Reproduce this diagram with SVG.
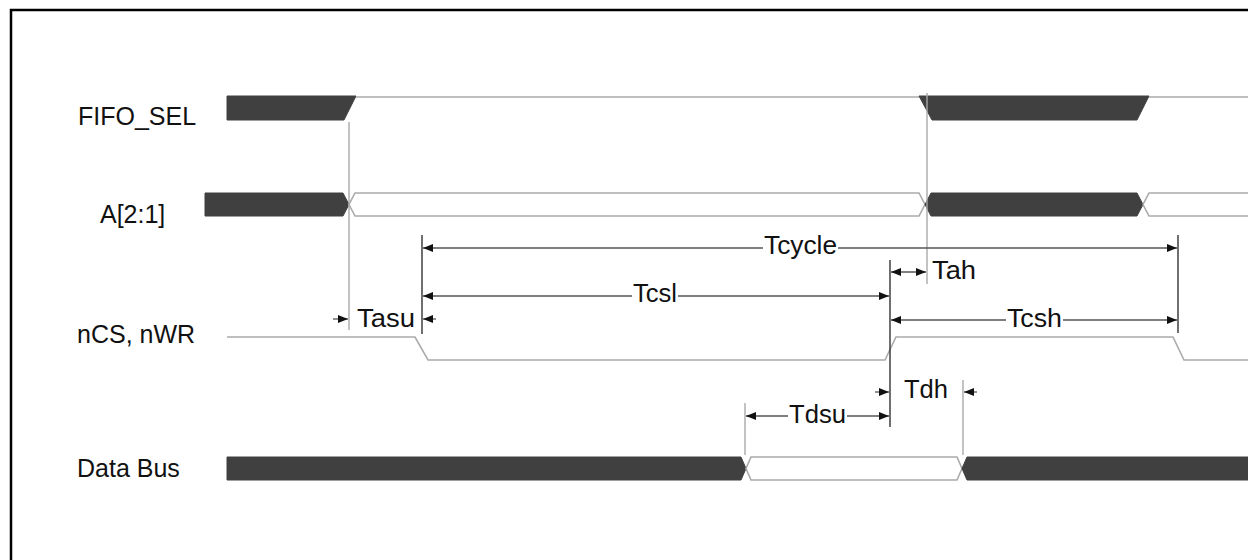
<svg xmlns="http://www.w3.org/2000/svg" width="1248" height="560" viewBox="0 0 1248 560">
<style>
.lbl{font-family:"Liberation Sans",Arial,sans-serif;font-size:25px;fill:#111}
.tl{font-family:"Liberation Sans",Arial,sans-serif;font-size:25px;fill:#111}
.dark{fill:#404040;stroke:#404040;stroke-width:1}
.sig{fill:#fff;stroke:#aaa;stroke-width:1.6}
.sigl{fill:none;stroke:#aaa;stroke-width:1.6}
.ref{stroke:#aaa;stroke-width:1.4;fill:none}
.refd{stroke:#333;stroke-width:1.4;fill:none}
.dim{stroke:#555;stroke-width:1.3;fill:none}
.arr{marker-end:url(#ah)}
.arr2{marker-start:url(#ah);marker-end:url(#ah)}
</style>
<defs>
<marker id="ah" viewBox="0 0 10 8" refX="10" refY="4" markerWidth="10" markerHeight="8" markerUnits="userSpaceOnUse" orient="auto-start-reverse">
<path d="M0,0 L10,4 L0,8 Z" fill="#111"/>
</marker>
</defs>
<rect width="1248" height="560" fill="#fff"/>
<path d="M11,560 V10 H1248" fill="none" stroke="#000" stroke-width="2.5"/>

<g id="labels">
<text class="lbl" x="78" y="125">FIFO_SEL</text>
<text class="lbl" x="100" y="223">A[2:1]</text>
<text class="lbl" x="77" y="343">nCS, nWR</text>
<text class="lbl" x="77" y="477">Data Bus</text>
</g>

<g id="fifo_sel">
<polygon class="dark" points="227,96 356,96 344,120 227,120"/>
<line class="sigl" x1="356" y1="97" x2="919" y2="97"/>
<polygon class="dark" points="919,96 1149,96 1137,120 932,120"/>
<line class="sigl" x1="1149" y1="97" x2="1248" y2="97"/>
</g>

<g id="addr">
<polygon class="dark" points="205,193 343,193 349,204.5 343,216 205,216"/>
<polygon class="sig" points="355,193 919,193 925,204.5 919,216 355,216 349,204.5"/>
<polygon class="dark" points="931,193 1137,193 1143,204.5 1137,216 931,216 925,204.5"/>
<path class="sigl" d="M1250,193 H1149 L1143,204.5 L1149,216 H1250"/>
</g>

<g id="ncs">
<polyline class="sigl" points="227,337 415,337 428,360 885,360 896,337 1173,337 1184,360 1248,360"/>
</g>

<g id="databus">
<polygon class="dark" points="227,457 741,457 746,468.5 741,480 227,480"/>
<polygon class="sig" points="751,457 957,457 962,468.5 957,480 751,480 746,468.5"/>
<polygon class="dark" points="967,457 1250,457 1250,480 967,480 962,468.5"/>
</g>

<g id="connectors">
<line class="ref" x1="349" y1="122" x2="349" y2="330"/>
<line class="ref" x1="927" y1="93" x2="927" y2="284"/>
<line class="refd" x1="422" y1="235" x2="422" y2="334"/>
<line class="refd" x1="890" y1="260" x2="890" y2="427"/>
<line class="refd" x1="1178" y1="235" x2="1178" y2="333"/>
<line class="ref" x1="745" y1="403" x2="745" y2="455"/>
<line class="ref" x1="963" y1="380" x2="963" y2="455"/>

<line class="dim" x1="763" y1="248" x2="423" y2="248" style="marker-end:url(#ah)"/>
<line class="dim" x1="838" y1="248" x2="1177" y2="248" style="marker-end:url(#ah)"/>

<line class="dim" x1="632" y1="296" x2="423" y2="296" style="marker-end:url(#ah)"/>
<line class="dim" x1="678" y1="296" x2="889" y2="296" style="marker-end:url(#ah)"/>

<line class="dim arr2" x1="891" y1="272" x2="926" y2="272"/>

<line class="dim" x1="1006" y1="320" x2="891" y2="320" style="marker-end:url(#ah)"/>
<line class="dim" x1="1063" y1="320" x2="1177" y2="320" style="marker-end:url(#ah)"/>

<line class="dim arr" x1="333" y1="319" x2="348" y2="319"/>
<line class="dim arr" x1="436" y1="319" x2="423" y2="319"/>

<line class="dim arr" x1="875" y1="392" x2="889" y2="392"/>
<line class="dim arr" x1="977" y1="392" x2="964" y2="392"/>

<line class="dim" x1="788" y1="416" x2="746" y2="416" style="marker-end:url(#ah)"/>
<line class="dim" x1="847" y1="416" x2="889" y2="416" style="marker-end:url(#ah)"/>
</g>

<g id="timing_labels">
<text class="tl" x="764" y="254" textLength="73" lengthAdjust="spacingAndGlyphs">Tcycle</text>
<text class="tl" x="633" y="302" textLength="44" lengthAdjust="spacingAndGlyphs">Tcsl</text>
<text class="tl" x="932" y="279" textLength="44" lengthAdjust="spacingAndGlyphs">Tah</text>
<text class="tl" x="1007" y="327" textLength="55" lengthAdjust="spacingAndGlyphs">Tcsh</text>
<text class="tl" x="357" y="327" textLength="58" lengthAdjust="spacingAndGlyphs">Tasu</text>
<text class="tl" x="904" y="398" textLength="44" lengthAdjust="spacingAndGlyphs">Tdh</text>
<text class="tl" x="789" y="423" textLength="57" lengthAdjust="spacingAndGlyphs">Tdsu</text>
</g>
</svg>
